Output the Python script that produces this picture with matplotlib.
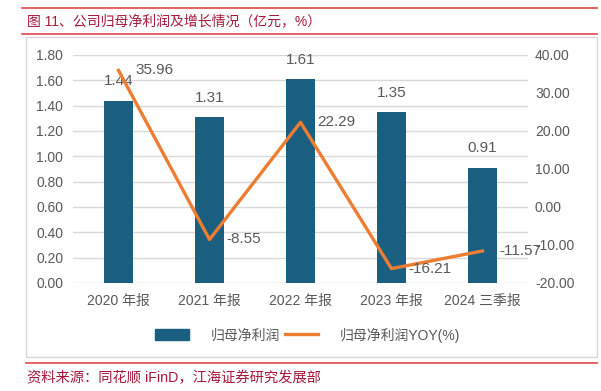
import matplotlib
matplotlib.use('Agg')
import matplotlib.pyplot as plt
from matplotlib.patches import Rectangle
from matplotlib.lines import Line2D

plt.rcParams['font.family'] = ['Liberation Sans', 'Noto Sans CJK SC', 'DejaVu Sans']

# data
periods = ['2020 年报', '2021 年报', '2022 年报', '2023 年报', '2024 三季报']
profit = [1.44, 1.31, 1.61, 1.35, 0.91]
yoy = [35.96, -8.55, 22.29, -16.21, -11.57]

bar_color = '#1a5e80'
line_color = '#ed7d31'
text_gray = '#595959'
red = '#e0474c'
title_red = '#a8183a'

W, H = 601, 391
fig = plt.figure(figsize=(W / 100, H / 100), dpi=100)

def fx(px):
    return px / W

def fy(py):
    return 1 - py / H

# frame, rules, title and source
fig.add_artist(Line2D([fx(22), fx(597)], [fy(8), fy(8)], color=red, lw=1.2))
fig.add_artist(Line2D([fx(22), fx(597)], [fy(34), fy(34)], color=red, lw=1.2))
fig.add_artist(Line2D([fx(26), fx(597)], [fy(363), fy(363)], color=red, lw=1.2))
fig.add_artist(Rectangle((fx(26), fy(357)), fx(597) - fx(26), fy(37) - fy(357),
                         fill=False, edgecolor='#d9d9d9', lw=1))
fig.text(fx(27), fy(21), '图 11、公司归母净利润及增长情况（亿元，%）', color=title_red,
         fontsize=10, va='center', ha='left')
fig.text(fx(27), fy(378), '资料来源：同花顺 iFinD，江海证券研究发展部', color=title_red,
         fontsize=10.3, va='center', ha='left')

ax = fig.add_axes([fx(73), fy(283), fx(528) - fx(73), fy(55) - fy(283)])
x = range(len(periods))
ax.bar(x, profit, width=0.31, color=bar_color, zorder=2)
ax.set_ylim(0, 1.8)
ax.set_yticks([i * 0.2 for i in range(10)])
ax.set_yticklabels(['%.2f' % (i * 0.2) for i in range(10)])
ax.set_xlim(-0.5, len(periods) - 0.5)
ax.set_xticks(list(x))
ax.set_xticklabels(periods)
ax.grid(axis='y', color='#d9d9d9', lw=1, zorder=0)
ax.set_axisbelow(True)
for s in ax.spines.values():
    s.set_visible(False)
ax.tick_params(axis='y', length=0, pad=7, labelsize=10, labelcolor=text_gray)
ax.tick_params(axis='x', length=0, pad=8, labelsize=10, labelcolor=text_gray)

for i, v in enumerate(profit):
    ax.annotate('%.2f' % v, (i, v), xytext=(0, 14), textcoords='offset points',
                ha='center', va='center', fontsize=11, color=text_gray)

ax2 = ax.twinx()
ax2.plot(list(x), yoy, color=line_color, lw=2.4, zorder=3)
ax2.set_ylim(-20, 40)
ax2.set_yticks(range(-20, 41, 10))
ax2.set_yticklabels(['%.2f' % t for t in range(-20, 41, 10)])
for s in ax2.spines.values():
    s.set_visible(False)
ax2.tick_params(axis='y', length=0, pad=5, labelsize=10, labelcolor=text_gray)

for i, v in enumerate(yoy):
    ax2.annotate('%.2f' % v, (i, v), xytext=(12, 0), textcoords='offset points',
                 ha='left', va='center', fontsize=11, color=text_gray)

handles = [Rectangle((0, 0), 1, 1, color=bar_color),
           Line2D([0], [0], color=line_color, lw=2.4)]
fig.legend(handles, ['归母净利润', '归母净利润YOY(%)'], loc='center',
           bbox_to_anchor=(fx(308), fy(335)), ncol=2, frameon=False,
           fontsize=10, labelcolor=text_gray, handlelength=2.4,
           handleheight=0.8, handletextpad=1.6, columnspacing=0.3)

fig.savefig('out.png', dpi=100)
